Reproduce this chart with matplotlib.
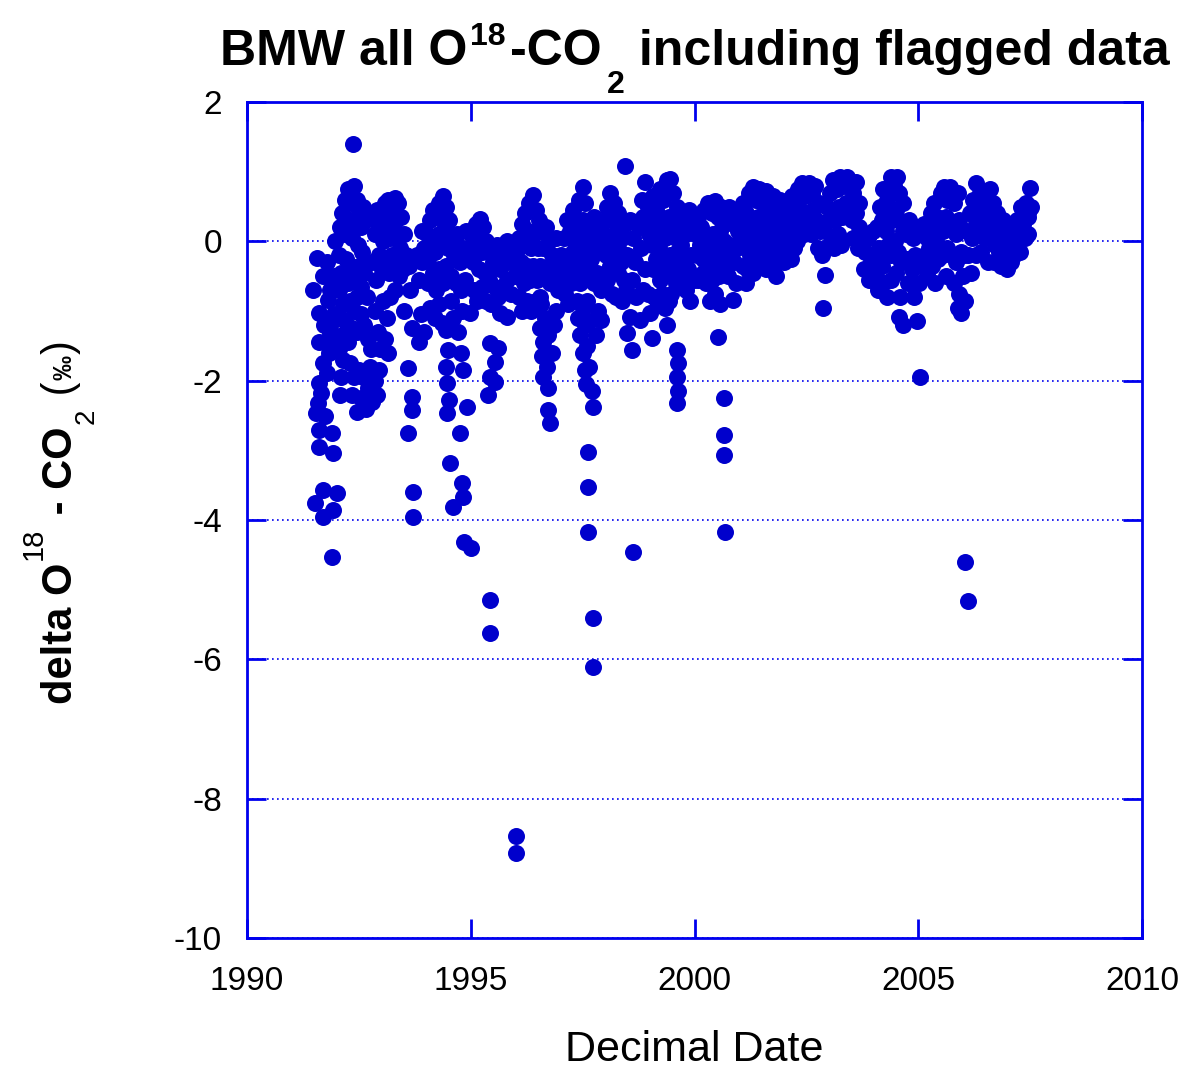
import matplotlib
matplotlib.use("Agg")
import matplotlib.pyplot as plt

# ---------------- data (decimal date, delta O18-CO2 per mil) ----------------
obs_1991 = [(1991.47,-0.70),(1991.57,-0.24),(1991.60,-1.03),(1991.62,-2.03),(1991.58,-2.32),(1991.55,-2.46),
            (1991.62,-2.71),(1991.60,-2.95),(1991.52,-3.76),(1991.70,-3.57),(1991.70,-3.96),(1991.70,-1.75),
            (1991.66,-2.18),(1991.62,-1.45),(1991.78,-0.30),(1991.97,0.00),(1991.85,-0.70),(1991.82,-0.84),
            (1991.88,-1.17),(1991.85,-1.32),(1991.80,-1.46),(1991.84,-1.60),(1991.78,-1.89),(1991.90,-2.75),
            (1991.92,-3.04),(1992.01,-3.61),(1991.92,-3.86),(1991.98,-1.40),(1991.95,-0.50),(1991.90,-4.53),
            (1991.72,-1.20),(1991.75,-2.50),(1991.70,-0.50),(1991.95,-1.05)]
obs_1992 = [(1992.05,-0.20),(1992.08,0.20),(1992.12,0.40),(1992.18,0.60),(1992.25,0.75),(1992.37,1.40),
            (1992.32,0.55),(1992.40,0.80),(1992.45,0.60),(1992.50,0.40),(1992.10,-0.45),(1992.18,0.10),
            (1992.22,-0.25),(1992.28,0.30),(1992.35,0.05),(1992.42,0.25),(1992.48,-0.05),(1992.55,0.20),
            (1992.60,0.50),(1992.05,-0.70),(1992.15,-0.90),(1992.25,-0.60),(1992.32,-0.35),(1992.40,-0.55),
            (1992.50,-0.35),(1992.58,-0.15),(1992.65,0.30),(1992.08,-1.10),(1992.12,-1.35),(1992.20,-1.15),
            (1992.30,-0.85),(1992.38,-1.00),(1992.45,-0.80),(1992.55,-0.65),(1992.62,-0.45),(1992.68,-0.80),
            (1992.05,-1.55),(1992.15,-1.70),(1992.10,-1.95),(1992.25,-1.45),(1992.35,-1.25),(1992.45,-1.30),
            (1992.55,-1.05),(1992.62,-1.20),(1992.70,-1.40),(1992.78,-1.55),(1992.08,-2.20),(1992.30,-1.75),
            (1992.40,-1.95),(1992.35,-2.20),(1992.45,-2.45),(1992.50,-1.85),(1992.55,-2.25),(1992.60,-1.95),
            (1992.65,-2.40),(1992.70,-2.10),(1992.75,-1.80),(1992.80,-2.30),(1992.85,-2.00),(1992.90,-2.20),
            (1992.95,-1.85),(1992.78,0.35),(1992.85,0.10),(1992.90,0.45),(1992.95,0.20),(1992.80,-0.30),
            (1992.88,-0.55),(1992.95,-0.20),(1992.85,-1.00),(1992.92,-1.30),(1992.98,-1.55)]
obs_1993 = [(1993.02,0.30),(1993.08,0.55),(1993.15,0.60),(1993.22,0.45),(1993.30,0.62),(1993.38,0.55),
            (1993.45,0.35),(1993.50,0.10),(1993.05,0.00),(1993.12,0.20),(1993.20,0.05),(1993.28,0.25),
            (1993.35,0.10),(1993.42,-0.10),(1993.55,-0.20),(1993.02,-0.40),(1993.10,-0.25),(1993.18,-0.45),
            (1993.25,-0.20),(1993.32,-0.35),(1993.40,-0.50),(1993.48,-0.40),(1993.05,-0.85),(1993.12,-1.10),
            (1993.08,-1.40),(1993.15,-1.60),(1993.20,-0.80),(1993.30,-0.70),(1993.62,-0.35),(1993.65,-0.70),
            (1993.50,-1.00),(1993.68,-1.25),(1993.60,-1.82),(1993.69,-2.23),(1993.69,-2.42),(1993.60,-2.75),
            (1993.71,-3.60),(1993.71,-3.96),(1993.80,-0.20),(1993.85,-0.55),(1993.90,-0.30),(1993.95,-0.10),
            (1993.88,-1.05),(1993.95,-1.30),(1993.85,-1.45),(1993.92,0.15)]
obs_1994 = [(1994.02,0.10),(1994.08,0.30),(1994.15,0.45),(1994.22,0.35),(1994.30,0.55),(1994.38,0.65),
            (1994.45,0.50),(1994.52,0.30),(1994.05,-0.25),(1994.12,0.00),(1994.20,-0.15),(1994.28,0.10),
            (1994.35,-0.05),(1994.42,0.20),(1994.50,-0.10),(1994.58,0.05),(1994.05,-0.60),(1994.15,-0.45),
            (1994.22,-0.70),(1994.30,-0.40),(1994.38,-0.60),(1994.45,-0.35),(1994.55,-0.50),(1994.10,-0.95),
            (1994.20,-1.10),(1994.28,-0.90),(1994.35,-1.17),(1994.45,-1.27),(1994.50,-1.56),(1994.45,-1.80),
            (1994.47,-2.03),(1994.52,-2.28),(1994.47,-2.46),(1994.55,-0.85),(1994.60,-1.10),(1994.83,-1.85),
            (1994.92,-2.38),(1994.76,-2.75),(1994.54,-3.18),(1994.80,-3.47),(1994.83,-3.67),(1994.60,-3.81),
            (1994.85,-4.32),(1995.00,-4.40),(1994.62,-0.20),(1994.70,0.10),(1994.75,-0.30),(1994.82,-0.10),
            (1994.90,0.15),(1994.95,-0.25),(1994.68,-0.60),(1994.78,-0.70),(1994.88,-0.55),(1994.72,-1.30),
            (1994.78,-1.60),(1994.98,-1.03),(1994.80,-1.00)]
obs_1995 = [(1995.05,0.05),(1995.12,0.25),(1995.20,0.32),(1995.28,0.20),(1995.35,0.00),(1995.42,-0.15),
            (1995.05,-0.30),(1995.12,-0.10),(1995.18,-0.40),(1995.25,-0.15),(1995.32,-0.45),(1995.40,-0.55),
            (1995.08,-0.70),(1995.15,-0.85),(1995.25,-0.65),(1995.35,-0.85),(1995.45,-0.90),(1995.43,-1.46),
            (1995.61,-1.53),(1995.54,-1.73),(1995.43,-1.95),(1995.54,-2.02),(1995.39,-2.21),(1995.65,-1.03),
            (1995.81,-1.08),(1995.43,-5.15),(1995.43,-5.62),(1995.50,-0.30),(1995.58,-0.05),(1995.65,-0.40),
            (1995.72,-0.20),(1995.80,0.00),(1995.88,-0.30),(1995.95,-0.10),(1995.55,-0.65),(1995.62,-0.80),
            (1995.72,-0.65),(1995.80,-0.55),(1995.90,-0.75),(1995.98,-0.50)]
obs_1996 = [(1996.00,-8.54),(1996.00,-8.78),(1996.02,-0.20),(1996.08,0.05),(1996.15,0.25),(1996.22,0.40),
            (1996.30,0.55),(1996.38,0.67),(1996.45,0.45),(1996.52,0.30),(1996.05,-0.50),(1996.12,-0.30),
            (1996.20,-0.05),(1996.28,0.15),(1996.35,-0.10),(1996.42,0.10),(1996.50,-0.10),(1996.58,0.15),
            (1996.08,-0.80),(1996.18,-0.60),(1996.25,-0.35),(1996.32,-0.55),(1996.40,-0.35),(1996.48,-0.55),
            (1996.55,-0.35),(1996.15,-1.00),(1996.25,-0.85),(1996.35,-1.00),(1996.45,-0.85),(1996.55,-0.80),
            (1996.62,-0.10),(1996.68,0.20),(1996.75,0.00),(1996.82,-0.20),(1996.90,0.05),(1996.95,-0.30),
            (1996.62,-0.50),(1996.70,-0.40),(1996.78,-0.60),(1996.88,-0.50),(1996.95,-0.70),(1996.58,-0.90),
            (1996.65,-1.10),(1996.55,-1.25),(1996.62,-1.45),(1996.72,-1.35),(1996.60,-1.65),(1996.70,-1.80),
            (1996.62,-1.95),(1996.72,-2.10),(1996.73,-2.42),(1996.77,-2.61),(1996.82,-1.60),(1996.85,-1.20),
            (1996.90,-1.00)]
obs_1997 = [(1997.02,-0.20),(1997.08,0.05),(1997.15,0.30),(1997.22,0.15),(1997.28,0.45),(1997.35,0.30),
            (1997.42,0.60),(1997.50,0.78),(1997.55,0.55),(1997.05,-0.50),(1997.12,-0.30),(1997.20,-0.45),
            (1997.28,-0.15),(1997.35,-0.05),(1997.42,0.10),(1997.50,0.30),(1997.58,0.20),(1997.10,-0.75),
            (1997.18,-0.90),(1997.25,-0.60),(1997.32,-0.45),(1997.40,-0.30),(1997.48,-0.10),(1997.58,-0.15),
            (1997.38,-0.85),(1997.45,-0.60),(1997.52,-0.40),(1997.62,-0.50),(1997.68,-0.25),(1997.40,-1.10),
            (1997.50,-0.95),(1997.60,-0.85),(1997.45,-1.35),(1997.55,-1.20),(1997.65,-1.15),(1997.50,-1.60),
            (1997.60,-1.50),(1997.55,-1.85),(1997.65,-1.80),(1997.58,-2.05),(1997.70,-2.15),(1997.73,-2.38),
            (1997.62,-3.02),(1997.62,-3.53),(1997.62,-4.17),(1997.73,-5.41),(1997.73,-6.11),(1997.70,0.05),
            (1997.75,0.35),(1997.80,0.10),(1997.85,-0.15),(1997.90,0.20),(1997.95,-0.05),(1997.75,-0.60),
            (1997.82,-0.45),(1997.90,-0.70),(1997.85,-1.00),(1997.92,-1.13),(1997.80,-1.35)]
obs_1998 = [(1998.00,0.30),(1998.05,0.50),(1998.12,0.70),(1998.20,0.55),(1998.28,0.40),(1998.35,0.20),
            (1998.45,1.08),(1998.02,-0.20),(1998.08,0.05),(1998.15,0.30),(1998.22,0.10),(1998.30,-0.10),
            (1998.38,0.05),(1998.45,0.25),(1998.05,-0.55),(1998.12,-0.35),(1998.20,-0.20),(1998.28,-0.45),
            (1998.35,-0.30),(1998.42,-0.55),(1998.50,-0.20),(1998.15,-0.75),(1998.25,-0.80),(1998.38,-0.85),
            (1998.48,-0.70),(1998.56,-1.08),(1998.49,-1.32),(1998.60,-1.56),(1998.78,-1.13),(1998.63,-4.46),
            (1998.55,0.30),(1998.62,0.05),(1998.68,-0.30),(1998.60,-0.55),(1998.70,-0.80),(1998.75,0.20),
            (1998.82,0.60),(1998.90,0.85),(1998.85,0.35),(1998.95,0.50),(1998.80,-0.10),(1998.90,-0.40),
            (1998.98,0.10),(1998.85,-0.70),(1998.95,-0.75)]
obs_1999 = [(1999.02,0.30),(1999.08,0.65),(1999.15,0.45),(1999.22,0.75),(1999.30,0.60),(1999.38,0.88),
            (1999.45,0.90),(1999.52,0.70),(1999.60,0.50),(1999.05,-0.05),(1999.12,0.15),(1999.20,-0.10),
            (1999.28,0.25),(1999.35,0.05),(1999.42,0.35),(1999.50,0.20),(1999.58,0.05),(1999.65,0.25),
            (1999.08,-0.40),(1999.15,-0.25),(1999.22,-0.55),(1999.30,-0.30),(1999.38,-0.45),(1999.45,-0.20),
            (1999.55,-0.35),(1999.62,-0.15),(1999.70,-0.05),(1999.10,-0.80),(1999.18,-0.90),(1999.28,-0.75),
            (1999.35,-0.95),(1999.48,-0.75),(1999.58,-0.60),(1999.68,-0.50),(1999.05,-1.39),(1999.00,-1.03),
            (1999.39,-1.20),(1999.42,-0.85),(1999.61,-1.56),(1999.64,-1.75),(1999.60,-1.95),(1999.63,-2.15),
            (1999.61,-2.32),(1999.75,0.30),(1999.82,0.10),(1999.88,0.45),(1999.95,0.20),(1999.78,-0.25),
            (1999.85,-0.40),(1999.92,-0.20),(1999.80,-0.70),(1999.90,-0.85),(1999.98,-0.55)]
obs_2000 = [(2000.02,0.10),(2000.08,0.35),(2000.15,0.20),(2000.22,0.45),(2000.30,0.55),(2000.38,0.40),
            (2000.45,0.58),(2000.52,0.35),(2000.60,0.50),(2000.05,-0.20),(2000.12,-0.05),(2000.20,-0.25),
            (2000.28,0.05),(2000.35,-0.15),(2000.42,0.10),(2000.50,-0.10),(2000.58,0.15),(2000.65,0.00),
            (2000.08,-0.55),(2000.18,-0.45),(2000.25,-0.60),(2000.32,-0.40),(2000.40,-0.55),(2000.48,-0.35),
            (2000.55,-0.50),(2000.62,-0.30),(2000.35,-0.85),(2000.45,-0.75),(2000.58,-0.90),(2000.52,-1.37),
            (2000.67,-2.25),(2000.66,-2.78),(2000.66,-3.07),(2000.68,-4.17),(2000.70,0.30),(2000.78,0.50),
            (2000.85,0.25),(2000.92,0.45),(2000.98,0.15),(2000.72,-0.15),(2000.80,-0.05),(2000.88,-0.30),
            (2000.95,-0.10),(2000.75,-0.50),(2000.86,-0.84),(2000.92,-0.60)]
obs_2001 = [(2001.02,0.35),(2001.08,0.55),(2001.15,0.40),(2001.22,0.70),(2001.30,0.78),(2001.38,0.60),
            (2001.45,0.75),(2001.52,0.55),(2001.60,0.72),(2001.68,0.50),(2001.75,0.65),(2001.82,0.45),
            (2001.90,0.60),(2001.97,0.35),(2001.05,0.00),(2001.12,0.15),(2001.20,-0.05),(2001.28,0.30),
            (2001.35,0.10),(2001.42,0.35),(2001.50,0.20),(2001.58,0.30),(2001.65,0.10),(2001.72,0.25),
            (2001.80,0.05),(2001.88,0.20),(2001.95,0.00),(2001.08,-0.35),(2001.18,-0.40),(2001.25,-0.20),
            (2001.32,-0.30),(2001.40,-0.15),(2001.48,-0.05),(2001.55,-0.20),(2001.62,-0.10),(2001.70,-0.25),
            (2001.78,-0.15),(2001.85,-0.30),(2001.92,-0.20),(2001.15,-0.60),(2001.30,-0.45),(2001.60,-0.40),
            (2001.82,-0.50)]
obs_2002 = [(2002.02,0.55),(2002.10,0.40),(2002.18,0.65),(2002.25,0.50),(2002.32,0.75),(2002.40,0.84),
            (2002.48,0.65),(2002.55,0.84),(2002.62,0.70),(2002.70,0.80),(2002.78,0.55),(2002.05,0.15),
            (2002.12,0.25),(2002.20,0.10),(2002.28,0.30),(2002.35,0.45),(2002.42,0.30),(2002.50,0.40),
            (2002.58,0.25),(2002.65,0.45),(2002.72,0.30),(2002.80,0.15),(2002.00,-0.30),(2002.08,-0.15),
            (2002.15,-0.25),(2002.22,-0.10),(2002.30,0.00),(2002.45,0.10),(2002.60,0.10),(2002.75,-0.10),
            (2002.85,-0.20),(2002.92,-0.48),(2002.87,-0.96),(2002.90,0.20),(2002.95,0.50)]
obs_2003 = [(2003.02,0.70),(2003.10,0.88),(2003.18,0.75),(2003.25,0.92),(2003.32,0.80),(2003.40,0.92),
            (2003.48,0.85),(2003.55,0.70),(2003.62,0.85),(2003.68,0.55),(2003.00,0.30),(2003.08,0.45),
            (2003.15,0.30),(2003.22,0.50),(2003.30,0.35),(2003.38,0.55),(2003.45,0.40),(2003.52,0.30),
            (2003.60,0.40),(2003.68,0.20),(2003.05,0.00),(2003.12,-0.10),(2003.20,0.10),(2003.28,-0.05),
            (2003.55,0.05),(2003.65,-0.10),(2003.75,0.10),(2003.82,-0.15),(2003.88,0.05),(2003.95,-0.30),
            (2003.78,-0.40),(2003.90,-0.55),(2003.98,0.15)]
obs_2004 = [(2004.02,-0.20),(2004.08,0.20),(2004.15,0.50),(2004.22,0.75),(2004.30,0.60),(2004.38,0.92),
            (2004.45,0.80),(2004.52,0.92),(2004.58,0.70),(2004.65,0.55),(2004.05,-0.50),(2004.12,-0.10),
            (2004.20,0.30),(2004.28,0.15),(2004.35,0.40),(2004.42,0.30),(2004.50,0.45),(2004.58,0.30),
            (2004.65,0.15),(2004.10,-0.70),(2004.18,-0.35),(2004.25,-0.20),(2004.32,-0.05),(2004.40,-0.20),
            (2004.48,0.00),(2004.55,-0.15),(2004.62,-0.30),(2004.22,-0.60),(2004.30,-0.80),(2004.40,-0.55),
            (2004.50,-0.45),(2004.60,-0.80),(2004.58,-1.08),(2004.65,-1.20),(2004.72,0.10),(2004.80,0.30),
            (2004.88,0.05),(2004.95,0.20),(2004.75,-0.25),(2004.85,-0.40),(2004.92,-0.20),(2004.78,-0.60),
            (2004.90,-0.80),(2004.97,-1.15)]
obs_2005 = [(2005.04,-1.95),(2005.02,-0.60),(2005.08,-0.30),(2005.05,0.10),(2005.12,0.25),(2005.20,0.05),
            (2005.28,0.40),(2005.35,0.55),(2005.42,0.35),(2005.50,0.70),(2005.58,0.78),(2005.65,0.60),
            (2005.72,0.78),(2005.80,0.55),(2005.88,0.70),(2005.15,-0.20),(2005.25,-0.10),(2005.32,0.15),
            (2005.40,0.00),(2005.48,0.30),(2005.55,0.15),(2005.62,0.35),(2005.70,0.20),(2005.78,0.25),
            (2005.85,0.10),(2005.92,0.30),(2005.20,-0.45),(2005.30,-0.35),(2005.45,-0.25),(2005.55,-0.20),
            (2005.65,-0.10),(2005.75,-0.20),(2005.85,-0.30),(2005.95,-0.15),(2005.38,-0.60),(2005.62,-0.50),
            (2005.80,-0.60),(2005.90,-0.75),(2005.95,-1.03),(2005.88,-0.95)]
obs_2006 = [(2006.04,-4.60),(2006.11,-5.16),(2006.00,-0.50),(2006.05,-0.85),(2006.02,-0.20),(2006.08,0.15),
            (2006.15,0.40),(2006.22,0.60),(2006.30,0.84),(2006.38,0.70),(2006.45,0.50),(2006.52,0.65),
            (2006.60,0.75),(2006.68,0.55),(2006.75,0.40),(2006.82,0.20),(2006.90,0.30),(2006.98,0.10),
            (2006.12,-0.20),(2006.20,0.05),(2006.28,0.30),(2006.35,0.15),(2006.42,0.25),(2006.50,0.05),
            (2006.58,0.30),(2006.65,0.10),(2006.72,-0.05),(2006.80,-0.15),(2006.88,-0.05),(2006.95,-0.25),
            (2006.18,-0.45),(2006.28,-0.20),(2006.40,-0.15),(2006.55,-0.30),(2006.70,-0.30),(2006.85,-0.35),
            (2006.98,-0.40)]
obs_2007 = [(2007.05,-0.10),(2007.10,0.15),(2007.15,-0.20),(2007.20,0.30),(2007.25,0.05),(2007.30,0.50),
            (2007.35,0.25),(2007.40,0.55),(2007.45,0.35),(2007.50,0.77),(2007.48,0.45),(2007.52,0.50),
            (2007.08,-0.30),(2007.18,-0.05),(2007.28,-0.15),(2007.38,0.05),(2007.45,0.10)]

x_ticks = [1990, 1995, 2000, 2005, 2010]
y_ticks = [-10, -8, -6, -4, -2, 0, 2]

title_pieces = ["BMW all O", "18", "-CO", "2", " including flagged data"]
ylabel_pieces = ["delta O", "18", " - CO", "2", " (", "‰", ")"]
xlabel_text = 'Decimal Date'

all_obs = (obs_1991 + obs_1992 + obs_1993 + obs_1994 + obs_1995 + obs_1996 + obs_1997 + obs_1998 +
           obs_1999 + obs_2000 + obs_2001 + obs_2002 + obs_2003 + obs_2004 + obs_2005 + obs_2006 + obs_2007)
dates = [d for d, v in all_obs]
values = [v for d, v in all_obs]

# ---------------- figure ----------------
plt.rcParams['font.family'] = ['Liberation Sans', 'DejaVu Sans']

W, H = 1200, 1073
fig = plt.figure(figsize=(W / 100, H / 100), dpi=100)
ax = fig.add_axes([247 / W, 1 - 938 / H, (1142 - 247) / W, (938 - 102) / H])

blue = '#0000ee'
ax.scatter(dates, values, s=150, color='#0000cc', linewidths=0, zorder=3)

ax.set_xlim(1990, 2010)
ax.set_ylim(-10, 2)
ax.set_xticks(x_ticks)
ax.set_yticks(y_ticks)
ax.set_xticklabels([str(t) for t in x_ticks])
ax.set_yticklabels([str(t) for t in y_ticks])

for sp in ax.spines.values():
    sp.set_color(blue)
    sp.set_linewidth(2)

ax.tick_params(axis='both', direction='in', length=14, width=2, color=blue,
               top=True, right=True, labelsize=24, labelcolor='black')
ax.tick_params(axis='x', pad=20)
ax.tick_params(axis='y', pad=18)
ax.yaxis.grid(True, linestyle=(0, (1, 2)), color=blue, linewidth=1.2)
ax.set_axisbelow(True)

renderer = fig.canvas.get_renderer()

# ---- title built from pieces (gnuplot-like raised/lowered indices) ----
big, small = 36, 23
base_y = 65          # baseline in pixels from top
specs = [(title_pieces[0], big, 0), (title_pieces[1], small, 20),
         (title_pieces[2], big, 0), (title_pieces[3], small, -28),
         (title_pieces[4], big, 0)]
objs = []
for txt, fs, dy in specs:
    t = fig.text(0, 0, txt.replace(' ', '\u00a0'), fontsize=fs, fontweight='bold',
                 ha='left', va='baseline')
    objs.append((t, dy))
widths = [t.get_window_extent(renderer).width for t, _ in objs]
gaps = [0, 2, 4, 6, 0]
total = sum(widths) + sum(gaps)
x = 695 - total / 2
for (t, dy), w, g in zip(objs, widths, gaps):
    x += g
    t.set_position((x / W, 1 - (base_y - dy) / H))
    x += w

# ---- rotated y label built from pieces ----
ybase_x = 72         # baseline (right side of rotated glyphs) in pixels
yspecs = [(ylabel_pieces[0], 30, 'bold', 0), (ylabel_pieces[1], 21, 'normal', 30),
          (ylabel_pieces[2], 30, 'bold', 0), (ylabel_pieces[3], 20, 'normal', -22),
          (ylabel_pieces[4], 30, 'normal', 0), (ylabel_pieces[5], 18, 'bold', 0),
          (ylabel_pieces[6], 30, 'normal', 0)]
yobjs = []
for txt, fs, fw, dx in yspecs:
    t = fig.text(0, 0, txt.replace(' ', '\u00a0'), fontsize=fs, fontweight=fw,
                 rotation=90, rotation_mode='anchor', ha='left', va='baseline')
    yobjs.append((t, dx))
heights = [t.get_window_extent(renderer).height for t, _ in yobjs]
ygaps = [0, 2, 2, 2, 2, 1, 1]
ytotal = sum(heights) + sum(ygaps)
y = 522 + ytotal / 2     # start (bottom) in pixels from top
for (t, dx), h, g in zip(yobjs, heights, ygaps):
    y -= g
    t.set_position(((ybase_x - dx) / W, 1 - y / H))
    y -= h

fig.text(694 / W, 1 - 1050 / H, xlabel_text, fontsize=31, ha='center', va='center')

fig.savefig('out.png', dpi=100)
